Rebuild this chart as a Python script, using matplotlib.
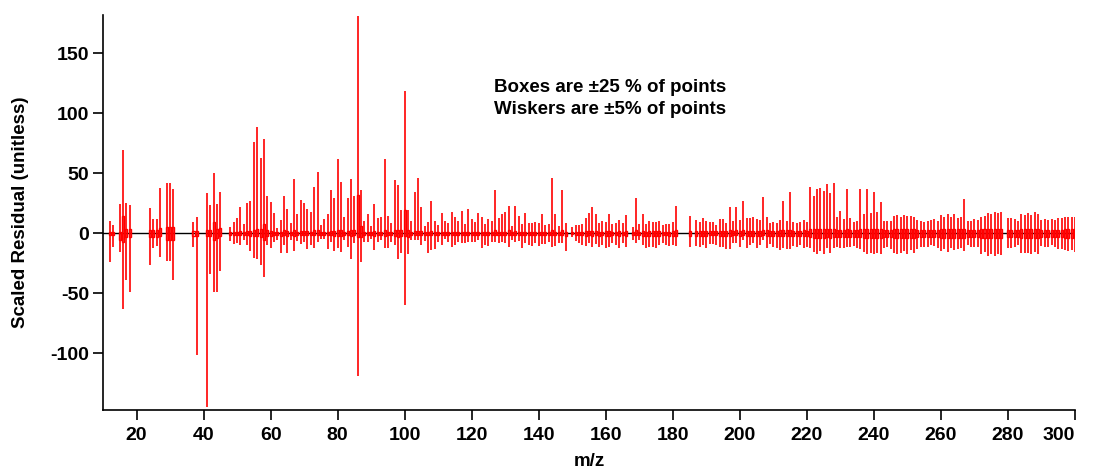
import matplotlib
matplotlib.use("Agg")
import matplotlib.pyplot as plt
import numpy as np

plt.rcParams["font.family"] = ["Liberation Sans", "DejaVu Sans"]
plt.rcParams["font.weight"] = "bold"
plt.rcParams["axes.unicode_minus"] = False

# m/z channels that have residual statistics
mz = [12, 13, 15, 16, 17, 18, 24, 25, 26, 27, 29, 30, 31, 37, 38, 41, 42, 43, 44, 45,
      48, 49, 50, 51, 52, 53, 54, 55, 56, 57, 58, 59, 60, 61, 62, 63, 64, 65, 66, 67,
      68, 69, 70, 71, 72, 73, 74, 75, 76, 77, 78, 79, 80, 81, 82, 83, 84, 85, 86, 87,
      88, 89, 90, 91, 92, 93, 94, 95, 96, 97, 98, 99, 100, 101, 102, 103, 104, 105, 106, 107,
      108, 109, 110, 111, 112, 113, 114, 115, 116, 117, 118, 119, 120, 121, 122, 123, 124, 125, 126, 127,
      128, 129, 130, 131, 132, 133, 134, 135, 136, 137, 138, 139, 140, 141, 142, 143, 144, 145, 146, 147,
      148,
      150, 151, 152, 153, 154, 155, 156, 157, 158, 159, 160, 161, 162, 163, 164, 165, 166,
      168, 169, 170, 171, 172, 173, 174, 175, 176, 177, 178, 179, 180, 181,
      185,
      187, 188, 189, 190, 191, 192, 193, 194, 195, 196, 197, 198, 199, 200, 201, 202, 203, 204, 205, 206,
      207, 208, 209, 210, 211, 212, 213, 214, 215, 216, 217, 218, 219, 220, 221, 222, 223, 224, 225, 226,
      227, 228, 229, 230, 231, 232, 233, 234, 235, 236, 237, 238, 239, 240, 241, 242, 243, 244, 245, 246,
      247, 248, 249, 250, 251, 252, 253, 254, 255, 256, 257, 258, 259, 260, 261, 262, 263, 264, 265, 266,
      267, 268, 269, 270, 271, 272, 273, 274, 275, 276, 277, 278,
      280, 281, 282, 283, 284, 285, 286, 287, 288, 289, 290, 291, 292, 293, 294, 295, 296, 297, 298, 299, 300]

# upper whisker (95th percentile)
whisk_hi = [10.5, 6.6, 24.4, 69.4, 25.0, 23.6, 20.8, 11.7, 11.7, 37.5, 41.7, 41.7, 36.7, 9.4, 13.9, 33.9, 23.6, 50.6, 24.2, 34.7,
            5.6, 9.4, 12.5, 21.7, 7.5, 25.0, 26.9, 76.4, 88.3, 62.5,
            78.6, 31.1, 26.1, 17.2, 4.2, 11.1, 31.1, 20.3, 8.3, 45.0,
            16.1, 27.8, 25.6, 20.3, 17.8, 38.9, 51.1, 6.7, 11.7, 16.1,
            36.1, 29.7, 61.7, 42.5, 13.3, 29.7, 45.0, 31.1, 181.5, 36.1,
            10.5, 16.1, 6.1, 24.2, 12.5, 13.3, 61.7, 14.7, 9.0, 44.2,
            40.0, 19.4, 118.6, 19.4, 10.5, 34.4, 45.8, 22.2, 6.1, 9.4,
            26.9, 10.5, 7.0, 17.2, 10.5, 8.3, 18.1, 13.9, 10.3, 18.6,
            7.5, 20.0, 11.9, 9.4, 16.7, 13.3, 7.5, 12.2, 10.3, 36.1,
            12.5, 15.8, 17.8, 22.8, 6.1, 23.0, 14.4, 7.8, 17.2, 8.3,
            8.3, 9.7, 8.6, 16.1, 7.2, 7.8, 45.8, 15.8, 6.4, 36.1,
            8.9,
            5.6, 7.2, 7.2, 7.8, 12.8, 17.2, 21.9, 16.1, 8.9, 10.0,
            9.7, 16.4, 8.1, 8.9, 11.1, 8.9, 15.3,
            5.6, 29.4, 7.8, 16.1, 7.5, 10.3, 9.7, 9.4, 10.6, 7.2,
            7.5, 7.8, 9.4, 22.8,
            14.4,
            11.1, 9.7, 12.5, 10.3, 9.2, 9.2, 7.2, 11.9, 11.9, 8.3,
            21.7, 10.3, 22.2, 11.1, 27.2, 12.5, 12.5, 13.9, 11.9, 11.1,
            30.6, 13.3, 8.3, 9.7, 8.3, 11.1, 27.2, 10.3, 34.4, 9.7,
            8.9, 9.2, 10.8, 9.4, 38.9, 31.4, 36.7, 38.1, 35.6, 40.8,
            33.9, 41.7, 13.3, 18.6, 11.7, 36.7, 13.0, 9.7, 10.3, 37.2,
            15.8, 36.7, 16.7, 34.7, 17.8, 26.1, 10.6, 10.3, 10.0, 14.4,
            15.3, 13.9, 15.6, 14.4, 14.4, 13.3, 11.1, 10.3, 9.7, 10.3,
            11.1, 11.7, 10.6, 15.3, 13.9, 15.8, 13.3, 15.8, 12.8, 13.9,
            28.6, 10.6, 10.0, 11.7, 11.1, 13.3, 14.4, 16.9, 15.8, 17.8,
            16.7, 17.8,
            12.8, 12.8, 11.9, 10.6, 15.8, 15.3, 16.7, 15.3, 17.8, 15.8,
            11.1, 11.9, 11.1, 11.7, 11.1, 12.5, 12.5, 13.3, 13.3, 13.3, 13.3]

# lower whisker (5th percentile)
whisk_lo = [-24.2, -11.7, -15.9, -63.0, -39.0, -48.6, -26.4, -12.5, -10.3, -19.5, -22.8, -22.8, -38.9, -11.7, -101.4, -145.0, -34.0, -48.6, -48.6, -31.4,
            -6.4, -9.2, -7.8, -9.7, -5.6, -10.0, -14.4, -20.8, -21.7, -26.4,
            -36.7, -10.0, -12.0, -6.9, -5.6, -16.7, -10.0, -16.7, -5.6, -14.7,
            -6.4, -9.2, -6.9, -13.3, -10.0, -12.0, -6.9, -5.0, -5.0, -12.8,
            -6.9, -14.7, -12.0, -15.8, -5.6, -11.0, -21.4, -8.3, -118.6, -24.2,
            -6.9, -7.5, -5.0, -13.9, -6.9, -5.6, -12.0, -12.0, -7.5, -10.0,
            -21.1, -16.7, -59.7, -17.2, -5.6, -5.6, -5.6, -10.0, -6.4, -16.7,
            -13.9, -13.3, -6.9, -10.0, -5.0, -7.5, -11.0, -10.0, -7.5, -8.3,
            -8.3, -7.5, -7.5, -7.5, -5.6, -12.0, -9.7, -10.3, -7.0, -7.0,
            -8.3, -7.5, -7.8, -11.7, -5.6, -7.5, -6.1, -12.5, -7.8, -9.7,
            -10.6, -8.3, -10.6, -9.2, -9.2, -7.0, -11.1, -10.3, -8.3, -7.8,
            -14.4,
            -2.8, -6.4, -8.3, -9.7, -10.3, -8.3, -11.1, -8.9, -11.1, -9.7,
            -12.5, -11.1, -8.3, -9.7, -12.5, -7.8, -11.7,
            -5.6, -7.8, -5.6, -9.7, -12.5, -11.1, -11.7, -12.5, -9.7, -8.3,
            -9.7, -10.6, -9.7, -10.6,
            -11.1,
            -10.6, -11.7, -9.7, -12.5, -8.9, -8.9, -9.7, -11.7, -11.1, -13.3,
            -13.0, -7.8, -7.8, -11.7, -5.6, -12.5, -9.7, -8.3, -12.5, -9.7,
            -5.6, -12.5, -8.9, -11.1, -12.5, -13.9, -12.5, -13.0, -13.3, -10.3,
            -11.7, -9.7, -12.5, -11.7, -12.5, -15.3, -17.5, -14.4, -17.5, -12.5,
            -16.1, -12.5, -11.1, -12.5, -12.5, -11.1, -11.7, -10.3, -12.5, -13.3,
            -15.8, -17.2, -16.7, -17.2, -16.1, -17.5, -12.5, -11.1, -13.3, -16.7,
            -17.2, -16.7, -14.4, -17.5, -13.9, -16.7, -13.3, -11.7, -11.1, -11.1,
            -9.7, -10.6, -12.5, -14.4, -13.3, -15.3, -12.5, -13.9, -13.3, -12.5,
            -14.4, -9.7, -11.1, -11.1, -11.1, -17.2, -15.3, -18.9, -17.2, -18.9,
            -17.2, -18.3,
            -12.5, -12.5, -11.1, -9.7, -16.7, -16.7, -16.7, -17.2, -15.3, -17.5,
            -10.6, -11.1, -11.7, -9.7, -11.7, -13.3, -13.3, -13.9, -14.4, -13.9, -15.3]

# upper box edge (75th percentile)
box_hi = [1.5, 1.2, 1.4, 14.7, 3.3, 3.3, 2.8, 2.8, 2.8, 4.2, 5.3, 5.3, 5.3, 2.2, 2.2, 2.5, 2.5, 9.2, 3.5, 4.5,
          1.2, 1.5, 1.5, 2.0, 1.2, 2.0, 2.0, 3.0, 4.0, 3.5,
          7.5, 2.5, 2.0, 1.5, 1.0, 1.5, 2.5, 2.0, 1.2, 2.5,
          1.5, 2.0, 2.0, 1.8, 1.5, 2.5, 2.5, 1.0, 1.2, 1.5,
          2.0, 2.0, 2.5, 2.5, 1.2, 2.0, 3.0, 2.5, 32.0, 6.0,
          1.2, 1.5, 1.0, 2.0, 1.2, 1.2, 2.5, 1.5, 1.2, 3.0,
          3.0, 2.5, 19.4, 3.0, 1.2, 2.0, 2.0, 1.8, 1.0, 1.2,
          2.0, 1.2, 1.0, 1.5, 1.2, 1.0, 1.5, 1.5, 1.2, 1.5,
          1.0, 1.5, 1.2, 1.2, 1.5, 1.5, 1.2, 1.5, 1.2, 2.5,
          1.5, 1.5, 1.5, 3.0, 1.0, 2.0, 1.5, 1.2, 1.5, 1.2,
          1.2, 1.2, 1.2, 1.5, 1.2, 1.2, 3.0, 1.5, 1.0, 2.5,
          1.5,
          0.8, 1.2, 1.5, 1.5, 2.0, 2.0, 2.0, 2.0, 1.5, 1.5,
          2.0, 2.0, 1.5, 1.5, 2.0, 1.5, 2.0,
          1.0, 2.5, 1.2, 2.0, 1.5, 2.0, 2.0, 2.0, 2.0, 1.5,
          1.5, 1.5, 2.0, 2.5,
          2.0,
          2.0, 2.0, 2.0, 2.0, 1.8, 1.8, 1.8, 2.0, 2.0, 2.0,
          2.5, 2.0, 2.5, 2.0, 2.5, 2.2, 2.2, 2.2, 2.2, 2.2,
          2.5, 2.5, 2.0, 2.2, 2.0, 2.5, 2.5, 2.5, 3.0, 2.2,
          2.2, 2.2, 2.5, 2.2, 3.5, 3.5, 3.5, 3.5, 3.5, 3.5,
          3.5, 3.5, 3.0, 3.0, 3.0, 3.5, 3.0, 2.8, 3.0, 3.5,
          3.5, 3.5, 3.5, 3.5, 3.5, 3.5, 3.0, 3.0, 3.0, 3.5,
          3.5, 3.5, 3.5, 3.5, 3.5, 3.5, 3.0, 3.0, 3.0, 3.0,
          3.0, 3.0, 3.0, 3.5, 3.5, 3.5, 3.5, 3.5, 3.5, 3.5,
          3.5, 3.0, 3.0, 3.0, 3.0, 3.5, 3.5, 4.0, 4.0, 4.0,
          4.0, 4.0,
          3.0, 3.0, 3.0, 3.0, 3.5, 3.5, 3.5, 3.5, 3.5, 3.5,
          3.0, 3.0, 3.0, 3.0, 3.0, 3.0, 3.0, 3.5, 3.5, 3.5, 3.5]

# lower box edge (25th percentile)
box_lo = [-1.5, -1.2, -5.6, -7.0, -3.3, -3.3, -2.8, -2.8, -2.8, -2.2, -5.8, -5.8, -5.8, -2.2, -2.2, -2.5, -2.5, -5.6, -3.5, -2.5,
          -1.2, -1.5, -1.5, -1.5, -1.0, -1.5, -2.0, -2.5, -2.5, -3.0,
          -5.8, -2.0, -2.0, -1.2, -1.0, -2.0, -1.5, -2.0, -1.0, -2.0,
          -1.2, -1.5, -1.2, -1.8, -1.5, -1.8, -1.5, -1.0, -1.0, -1.5,
          -1.5, -2.0, -2.0, -2.0, -1.0, -1.5, -2.5, -1.5, -3.0, -3.0,
          -1.2, -1.2, -1.0, -2.0, -1.2, -1.0, -2.0, -1.5, -1.2, -2.5,
          -3.0, -2.5, -2.6, -3.0, -1.0, -1.2, -1.2, -1.5, -1.0, -1.8,
          -1.8, -1.8, -1.0, -1.5, -1.0, -1.2, -1.5, -1.5, -1.2, -1.2,
          -1.2, -1.2, -1.2, -1.2, -1.0, -1.8, -1.5, -1.5, -1.2, -1.2,
          -1.5, -1.2, -1.2, -1.8, -1.0, -1.2, -1.0, -1.8, -1.2, -1.5,
          -1.5, -1.2, -1.5, -1.5, -1.5, -1.2, -1.8, -1.5, -1.2, -1.2,
          -2.0,
          -0.8, -1.2, -1.5, -1.5, -2.0, -1.5, -2.0, -1.5, -2.0, -1.5,
          -2.0, -2.0, -1.5, -1.5, -2.0, -1.5, -2.0,
          -1.0, -1.5, -1.0, -2.0, -2.0, -2.0, -2.0, -2.0, -2.0, -1.5,
          -1.5, -2.0, -2.0, -2.0,
          -2.0,
          -2.0, -2.0, -2.0, -2.0, -1.8, -1.8, -1.8, -2.0, -2.0, -2.2,
          -2.2, -1.8, -1.8, -2.0, -1.8, -2.2, -2.0, -2.0, -2.2, -2.0,
          -1.8, -2.2, -2.0, -2.2, -2.2, -2.5, -2.5, -2.5, -2.5, -2.2,
          -2.2, -2.2, -2.5, -2.2, -3.0, -3.5, -3.5, -3.5, -3.5, -3.0,
          -3.5, -3.0, -3.0, -3.0, -3.0, -3.0, -3.0, -2.8, -3.0, -3.0,
          -3.5, -3.5, -3.5, -3.5, -3.5, -3.5, -3.0, -3.0, -3.0, -3.5,
          -3.5, -3.5, -3.5, -3.5, -3.5, -3.5, -3.0, -3.0, -3.0, -3.0,
          -3.0, -3.0, -3.0, -3.5, -3.5, -3.5, -3.5, -3.5, -3.5, -3.5,
          -3.5, -3.0, -3.0, -3.0, -3.0, -4.0, -4.0, -4.0, -4.0, -4.0,
          -4.0, -4.0,
          -3.0, -3.0, -3.0, -3.0, -3.5, -3.5, -3.5, -3.5, -3.5, -3.5,
          -3.0, -3.0, -3.0, -3.0, -3.0, -3.0, -3.0, -3.5, -3.5, -3.5, -3.5]

assert len(mz) == len(whisk_hi) == len(whisk_lo) == len(box_hi) == len(box_lo)

x_ticks = [20, 40, 60, 80, 100, 120, 140, 160, 180, 200, 220, 240, 260, 280, 300]
y_ticks = [-100, -50, 0, 50, 100, 150]

RED = "#ff0000"

fig = plt.figure(figsize=(10.93, 4.69), dpi=100)
ax = fig.add_axes([103 / 1093, 1 - 410 / 469, (1075 - 103) / 1093, (410 - 15) / 469])

x = np.array(mz, dtype=float)
lo_b = np.array(box_lo)
hi_b = np.array(box_hi)

# zero reference line
ax.axhline(0, color="black", lw=1.0, zorder=1)

# whiskers
ax.vlines(x, whisk_lo, whisk_hi, color=RED, lw=1.2, zorder=2)

# hollow boxes
ax.bar(x, hi_b - lo_b, bottom=lo_b, width=0.6, fill=False,
       edgecolor=RED, linewidth=1.0, zorder=3)

ax.set_xlim(10, 300)
ax.set_ylim(-147.3, 182)

for side in ("top", "right"):
    ax.spines[side].set_visible(False)
for side in ("left", "bottom"):
    ax.spines[side].set_linewidth(1.2)

ax.set_xticks(x_ticks)
ax.set_yticks(y_ticks)
ax.tick_params(axis="both", direction="out", length=7, width=1.2,
               labelsize=14, pad=3)
ax.tick_params(axis="x", pad=5)
for lab in ax.get_xticklabels() + ax.get_yticklabels():
    lab.set_fontweight("bold")
ax.get_xticklabels()[-1].set_horizontalalignment("right")

fig.text(21 / 1093, 1 - 212 / 469, "Scaled Residual (unitless)", rotation=90,
         ha="center", va="center", fontsize=13.5, fontweight="bold")
fig.text(589 / 1093, 1 - 461 / 469, "m/z", ha="center", va="center",
         fontsize=13.5, fontweight="bold")

ax.text(126.7, 121.7, "Boxes are \u00b125 % of points", ha="left", va="center",
        fontsize=13.5, fontweight="bold")
ax.text(126.7, 103.0, "Wiskers are \u00b15% of points", ha="left", va="center",
        fontsize=13.5, fontweight="bold")

fig.savefig("out.png", dpi=100)
